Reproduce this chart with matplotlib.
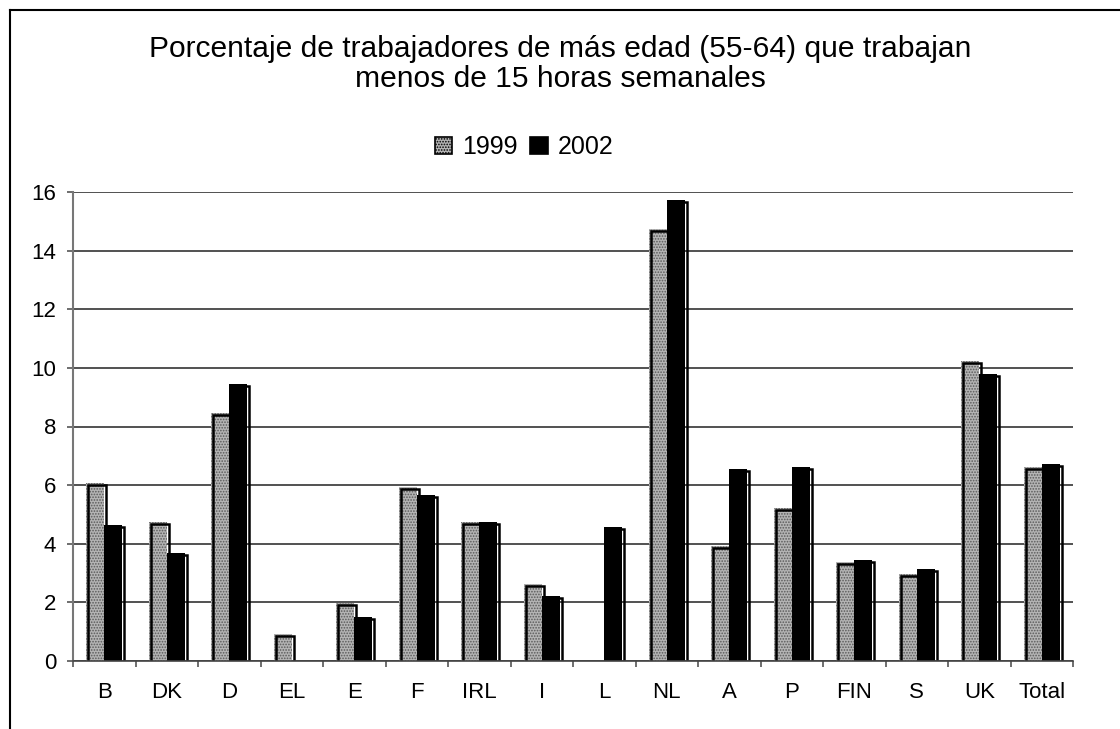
import matplotlib
matplotlib.use("Agg")
import matplotlib.pyplot as plt
from matplotlib.patches import Rectangle, Patch
from matplotlib.lines import Line2D
from matplotlib.transforms import ScaledTranslation
import numpy as np

plt.rcParams['font.family'] = ['Liberation Sans', 'DejaVu Sans']
plt.rcParams['hatch.linewidth'] = 0.8

categories = ["B", "DK", "D", "EL", "E", "F", "IRL", "I", "L", "NL", "A", "P", "FIN", "S", "UK", "Total"]
v1999 = [6.07, 4.74, 8.46, 0.92, 1.98, 5.92, 4.74, 2.62, 0.0, 14.75, 3.92, 5.22, 3.38, 2.97, 10.24, 6.62]
v2002 = [4.64, 3.68, 9.45, 0.0, 1.50, 5.66, 4.74, 2.22, 4.57, 15.73, 6.55, 6.62, 3.45, 3.14, 9.79, 6.72]
yticks = [0, 2, 4, 6, 8, 10, 12, 14, 16]
title = "Porcentaje de trabajadores de más edad (55-64) que trabajan\nmenos de 15 horas semanales"
series_names = ["1999", "2002"]

W, H = 1120, 729
fig = plt.figure(figsize=(W / 100, H / 100), dpi=100)
ax = fig.add_axes([73 / W, 1 - 661 / H, (1073 - 73) / W, (661 - 192) / H])

x = np.arange(len(categories))
w = 0.29
fill1 = dict(facecolor="#b4b4b4", hatch="......", edgecolor="#5a5a5a", linewidth=0)
fill2 = dict(facecolor="black", edgecolor="black", linewidth=0)

shift = ax.transData + ScaledTranslation(2 / 100, -2 / 100, fig.dpi_scale_trans)

for xi, v in zip(x, v1999):
    if v > 0:
        ax.bar(xi - w / 2, v, w, zorder=3, **fill1)
        ax.add_patch(Rectangle((xi - w, 0), w, v, fill=False, edgecolor="black",
                               linewidth=1.8, transform=shift, zorder=4, clip_on=True))
for xi, v in zip(x, v2002):
    if v > 0:
        ax.bar(xi + w / 2, v, w, zorder=3, **fill2)
        ax.add_patch(Rectangle((xi, 0), w, v, fill=False, edgecolor="black",
                               linewidth=1.8, transform=shift, zorder=4, clip_on=True))

ax.set_xlim(-0.5, len(categories) - 0.5)
ax.set_ylim(0, 16)
ax.set_yticks(yticks)
ax.set_yticklabels([str(t) for t in yticks])
ax.set_xticks(x)
ax.set_xticklabels(categories)
ax.set_xticks(np.arange(len(categories) + 1) - 0.5, minor=True)
ax.tick_params(axis="x", which="major", length=0, pad=15, labelsize=16)
ax.tick_params(axis="x", which="minor", length=4, width=1.2, color="#555555", direction="out")
ax.tick_params(axis="y", length=4, width=1.2, color="#555555", direction="out", pad=8, labelsize=16)

ax.yaxis.grid(True, color="#333333", linewidth=1.2, zorder=1)
ax.set_axisbelow(True)
for s in ["top", "right"]:
    ax.spines[s].set_visible(False)
ax.spines["left"].set_color("#777777")
ax.spines["left"].set_linewidth(1.5)
ax.spines["bottom"].set_color("#444444")
ax.spines["bottom"].set_linewidth(1.2)
ax.spines["bottom"].set_zorder(5)

fig.text(0.5, 1 - 64 / H, title, ha="center", va="center", fontsize=21.6, linespacing=1.13)

handles = [Patch(facecolor="#b4b4b4", hatch="......", edgecolor="black", linewidth=1.2),
           Patch(facecolor="black", edgecolor="black", linewidth=1.2)]
fig.legend(handles, series_names, loc="center", bbox_to_anchor=(524 / W, 1 - 147 / H), ncol=2,
           frameon=False, fontsize=18, handlelength=0.7, handleheight=0.7,
           handletextpad=0.4, columnspacing=0.5)

fig.add_artist(Line2D([10 / W, 1], [1 - 10 / H, 1 - 10 / H], color="black", linewidth=1.5))
fig.add_artist(Line2D([10 / W, 10 / W], [0, 1 - 10 / H], color="black", linewidth=1.5))

fig.savefig("out.png", dpi=100)
